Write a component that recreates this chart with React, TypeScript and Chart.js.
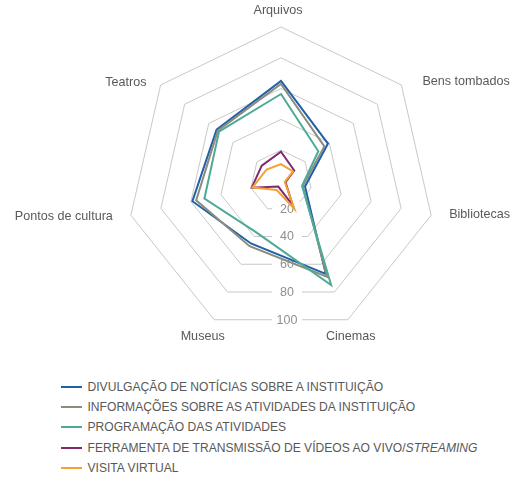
import React, { useEffect, useRef } from "react";
import { Chart, registerables } from "chart.js";

Chart.register(...registerables);

const CATEGORIES = ["Arquivos", "Bens tombados", "Bibliotecas", "Cinemas", "Museus", "Pontos de cultura", "Teatros"];

const DIVULGACAO = [65, 39, 16, 67, 45, 59, 53.5];
const INFORMACOES = [63, 36, 14.5, 69, 47, 56.5, 52.5];
const PROGRAMACAO = [56.5, 31, 14, 75, 37, 51, 51.5];
const FERRAMENTA = [19, 11, 3, 17.5, 4, 19.5, 16];
const VISITA = [11, 10, 2.5, 20, 6.5, 19, 12];

const SERIES_NAMES = [
  "DIVULGAÇÃO DE NOTÍCIAS SOBRE A INSTITUIÇÃO",
  "INFORMAÇÕES SOBRE AS ATIVIDADES DA INSTITUIÇÃO",
  "PROGRAMAÇÃO DAS ATIVIDADES",
  "FERRAMENTA DE TRANSMISSÃO DE VÍDEOS AO VIVO/*STREAMING*",
  "VISITA VIRTUAL",
];
const SERIES_VALUES = [DIVULGACAO, INFORMACOES, PROGRAMACAO, FERRAMENTA, VISITA];
const SERIES_COLORS = ["#1F60A8", "#8A8C7E", "#4DAA96", "#7D2A72", "#F5A031"];

const TICK_VALUES = [20, 40, 60, 80, 100];

const FONT = '"Liberation Sans", Arial, sans-serif';

// label placement relative to each outer vertex: [dx, dy, align]
const LABEL_PLACEMENT: [number, number, CanvasTextAlign][] = [
  [-3, -16.5, "center"],
  [21, -3, "left"],
  [18, -1, "left"],
  [3, 16.5, "center"],
  [-11.5, 16.5, "center"],
  [-18, 1, "right"],
  [-14, -2.5, "right"],
];

const tickLabelPlugin = {
  id: "bottomTickLabels",
  beforeDatasetsDraw(chart: any) {
    const s = chart.scales.r;
    const ctx = chart.ctx as CanvasRenderingContext2D;
    const n = chart.data.labels.length;
    const k = Math.cos(Math.PI / n);
    ctx.save();
    ctx.font = `12.5px ${FONT}`;
    ctx.textAlign = "center";
    ctx.textBaseline = "middle";
    for (const v of TICK_VALUES) {
      const d = s.getDistanceFromCenterForValue(v) * k;
      const x = s.xCenter + 6;
      const y = s.yCenter + d;
      ctx.fillStyle = "#ffffff";
      ctx.fillRect(x - 15, y - 7, 30, 14);
      ctx.fillStyle = "#8f8f8f";
      ctx.fillText(String(v), x, y + 0.5);
    }
    ctx.restore();
  },
};

const pointLabelPlugin = {
  id: "customPointLabels",
  afterDatasetsDraw(chart: any) {
    const s = chart.scales.r;
    const ctx = chart.ctx as CanvasRenderingContext2D;
    const labels: string[] = chart.data.labels;
    ctx.save();
    ctx.font = `12.6px ${FONT}`;
    ctx.fillStyle = "#595959";
    ctx.textBaseline = "middle";
    labels.forEach((lab, i) => {
      const p = s.getPointPosition(i, s.drawingArea);
      const [dx, dy, align] = LABEL_PLACEMENT[i];
      ctx.textAlign = align;
      ctx.fillText(lab, p.x + dx, p.y + dy);
    });
    ctx.restore();
  },
};

function renderName(name: string) {
  const parts = name.split("*");
  return parts.map((p, i) => (i % 2 === 1 ? <i key={i}>{p}</i> : <span key={i}>{p}</span>));
}

export default function App() {
  const ref = useRef<HTMLCanvasElement | null>(null);

  useEffect(() => {
    if (!ref.current) return;
    const chart = new Chart(ref.current, {
      type: "radar",
      data: {
        labels: CATEGORIES,
        datasets: SERIES_VALUES.map((vals, i) => ({
          label: SERIES_NAMES[i].replace(/\*/g, ""),
          data: vals,
          borderColor: SERIES_COLORS[i],
          backgroundColor: "transparent",
          borderWidth: 2,
          pointRadius: 0,
          pointHoverRadius: 0,
          fill: false,
          tension: 0,
          order: SERIES_VALUES.length - 1 - i,
        })),
      },
      options: {
        responsive: false,
        animation: false,
        layout: { padding: { left: 127, right: 78, top: 27, bottom: 25 } },
        plugins: {
          legend: { display: false },
          tooltip: { enabled: false },
          title: { display: false },
        },
        scales: {
          r: {
            min: 0,
            max: 100,
            ticks: { display: false, stepSize: 20 },
            grid: { color: "#c8c8c8", lineWidth: 1 },
            angleLines: { display: false },
            pointLabels: { display: false },
          },
        },
      },
      plugins: [tickLabelPlugin, pointLabelPlugin],
    });
    return () => chart.destroy();
  }, []);

  return (
    <div style={{ position: "absolute", left: 0, top: 0, width: 513, height: 479, background: "#fff" }}>
      <canvas ref={ref} width={513} height={360} style={{ display: "block", width: 513, height: 360 }} />
      <div style={{ position: "absolute", left: 0, top: 377, width: 513 }}>
        {SERIES_NAMES.map((name, i) => (
          <div key={i} style={{ display: "flex", alignItems: "center", height: 20.2 }}>
            <span
              style={{ display: "inline-block", marginLeft: 61, width: 21, height: 2, background: SERIES_COLORS[i] }}
            />
            <span
              style={{
                marginLeft: 5.5,
                fontFamily: FONT,
                fontSize: 12.1,
                color: "#595959",
                whiteSpace: "nowrap",
                lineHeight: "20.2px",
              }}
            >
              {renderName(name)}
            </span>
          </div>
        ))}
      </div>
    </div>
  );
}
